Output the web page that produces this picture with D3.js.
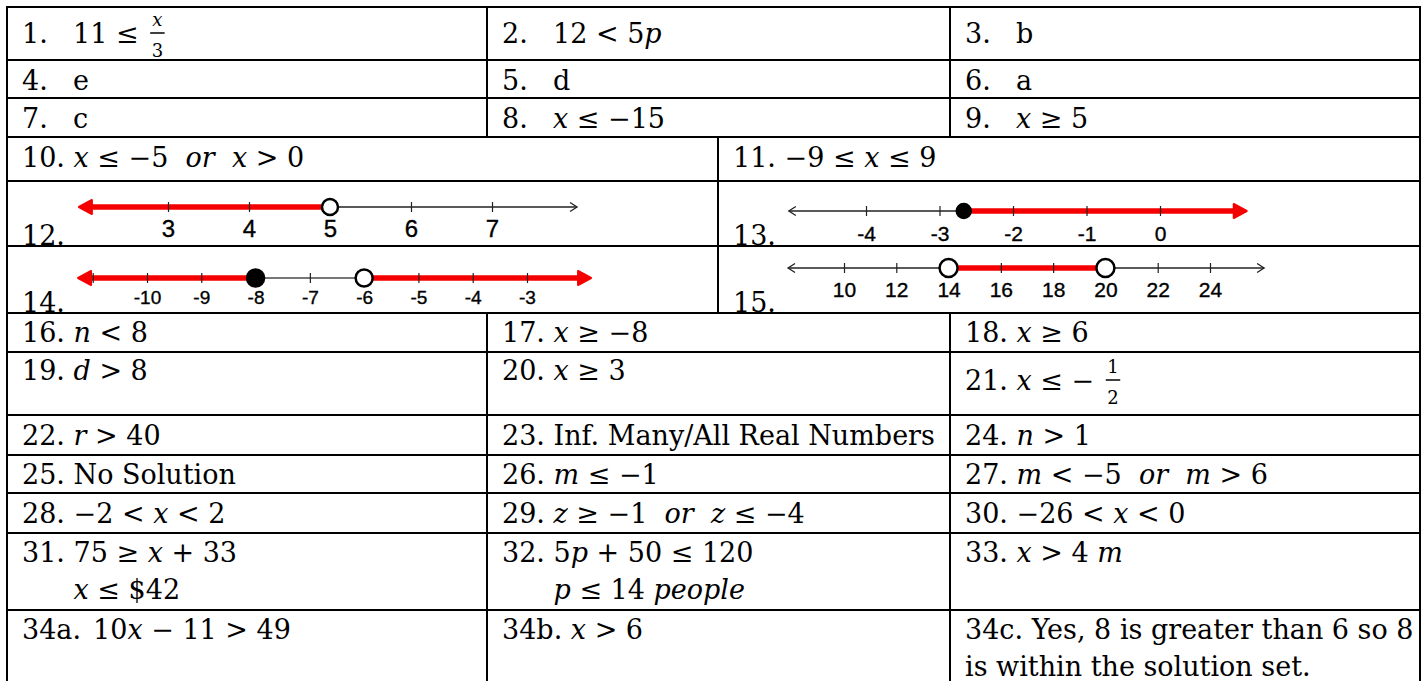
<!DOCTYPE html>
<html><head><meta charset="utf-8">
<script src="https://cdn.jsdelivr.net/npm/d3@7"></script>
<style>html,body{margin:0;padding:0;background:#fff;overflow:hidden}svg{display:block}</style>
</head><body>
<svg id="chart" width="1426" height="681"></svg>
<script>
// ---------------- DATA ----------------
// "_..._" marks italic (math variables), "[a/b]" a stacked fraction, "\t" a tab after the item number
const answersTop = [
  ["1.\t11 ≤ [_x_/3]", "2.\t12 < 5_p_", "3.\tb"],
  ["4.\te", "5.\td", "6.\ta"],
  ["7.\tc", "8.\t_x_ ≤ −15", "9.\t_x_ ≥ 5"]
];
const answersMid = ["10. _x_ ≤ −5  _or_  _x_ > 0", "11. −9 ≤ _x_ ≤ 9"];
const numberLineItems = ["12.", "13.", "14.", "15."];
const answersBottom = [
  ["16. _n_ < 8", "17. _x_ ≥ −8", "18. _x_ ≥ 6"],
  ["19. _d_ > 8", "20. _x_ ≥ 3", "21. _x_ ≤ − [1/2]"],
  ["22. _r_ > 40", "23. Inf. Many/All Real Numbers", "24. _n_ > 1"],
  ["25. No Solution", "26. _m_ ≤ −1", "27. _m_ < −5  _or_  _m_ > 6"],
  ["28. −2 < _x_ < 2", "29. _z_ ≥ −1  _or_  _z_ ≤ −4", "30. −26 < _x_ < 0"],
  ["31. 75 ≥ _x_ + 33|      _x_ ≤ $42", "32. 5_p_ + 50 ≤ 120|      _p_ ≤ 14 _people_", "33. _x_ > 4 _m_"],
  ["34a.\t10_x_ − 11 > 49", "34b. _x_ > 6", "34c. Yes, 8 is greater than 6 so 8|is within the solution set."]
];

// number lines: tick values, labelled ticks, visible ends (in axis units), shaded intervals, endpoints
const nl12Ticks = [3, 4, 5, 6, 7];
const nl12Labels = [3, 4, 5, 6, 7];
const nl12Ends = [1.9, 8.05];
const nl12Shade = [[-Infinity, 5]];
const nl12Points = [[5, "open"]];

const nl13Ticks = [-4, -3, -2, -1, 0];
const nl13Labels = [-4, -3, -2, -1, 0];
const nl13Ends = [-5.05, 1.18];
const nl13Shade = [[-2.67, Infinity]];
const nl13Points = [[-2.67, "closed"]];

const nl14Ticks = [-11, -10, -9, -8, -7, -6, -5, -4, -3];
const nl14Labels = [-10, -9, -8, -7, -6, -5, -4, -3];
const nl14Ends = [-11.27, -1.82];
const nl14Shade = [[-Infinity, -8], [-6, Infinity]];
const nl14Points = [[-8, "closed"], [-6, "open"]];

const nl15Ticks = [10, 12, 14, 16, 18, 20, 22, 24];
const nl15Labels = [10, 12, 14, 16, 18, 20, 22, 24];
const nl15Ends = [7.86, 26.07];
const nl15Shade = [[14, 20]];
const nl15Points = [[14, "open"], [20, "open"]];

// ---------------- LAYOUT ----------------
const W = 1426, H = 681;
const SERIF = "'DejaVu Serif', 'Liberation Serif', serif";
const SANS = "'Liberation Sans Narrow', 'Liberation Sans', Arial, sans-serif";
const FS = 27;
const TAB = 51;
const xL = 7, xR = 1420;
const col3 = [7, 487, 950];
const col2 = [7, 718];
const topRowTops = [7, 60, 98];
const midTop = 137;
const nlRowTops = [181, 246];
const bottomRowTops = [313, 352, 415, 455, 493, 533, 610];
const tableBottom = 690;
const padX = 15;
const baseOff = 30;
const lineGap = 37;
const RED = "#f40000";

const svg = d3.select("#chart");
svg.append("rect").attr("width", W).attr("height", H).attr("fill", "#fff");
const gText = svg.append("g").attr("font-family", SERIF).attr("font-size", FS).attr("fill", "#000");
const gLines = svg.append("g");
const gBorders = svg.append("g").attr("stroke", "#000").attr("stroke-width", 2);

function addRuns(t, str) {
  str.split("_").forEach((p, i) => {
    if (p) t.append("tspan").attr("font-style", i % 2 ? "italic" : "normal").text(p);
  });
}

function rich(x, y, s) {
  const m = s.match(/^(.*)\[([^\/\]]*)\/([^\]]*)\]$/);
  const main = m ? m[1] : s;
  const t = gText.append("text").attr("x", x).attr("y", y)
    .attr("xml:space", "preserve").style("white-space", "pre");
  addRuns(t, main);
  let w = t.node().getComputedTextLength();
  if (m) {
    const fs = 18;
    const bar = y - 10;
    const num = gText.append("text").attr("font-size", fs).attr("y", bar - 7);
    addRuns(num, m[2]);
    const den = gText.append("text").attr("font-size", fs).attr("y", bar + 24);
    addRuns(den, m[3]);
    const bw = Math.max(num.node().getComputedTextLength(), den.node().getComputedTextLength()) + 3;
    const fx = x + w + 3;
    num.attr("x", fx + bw / 2).attr("text-anchor", "middle");
    den.attr("x", fx + bw / 2).attr("text-anchor", "middle");
    gText.append("line").attr("x1", fx).attr("x2", fx + bw).attr("y1", bar).attr("y2", bar)
      .attr("stroke", "#000").attr("stroke-width", 1.5);
    w += bw + 3;
  }
  return w;
}

function cell(x, y, s) {
  s.split("|").forEach((line, li) => {
    const yy = y + li * lineGap;
    const parts = line.split("\t");
    if (parts.length > 1) {
      const lw = rich(x, yy, parts[0]);
      rich(Math.max(x + TAB, x + lw + 12), yy, parts[1]);
    } else {
      rich(x, yy, line);
    }
  });
}

// top rows
answersTop.forEach((row, r) => {
  const y = topRowTops[r] + (r === 0 ? 36 : baseOff);
  row.forEach((s, c) => cell(col3[c] + padX, y, s));
});
// row 10 / 11
answersMid.forEach((s, c) => cell(col2[c] + padX, midTop + baseOff, s));
// number line item numbers
numberLineItems.forEach((s, i) => {
  const r = Math.floor(i / 2), c = i % 2;
  const bottom = r === 0 ? nlRowTops[1] : bottomRowTops[0];
  cell(col2[c] + padX, bottom - 1, s);
});
// bottom rows
const bottomOffsets = [29, 28, 30, 29, 30, 29, 29];
answersBottom.forEach((row, r) => {
  row.forEach((s, c) => {
    const extra = s.includes("[") ? 10 : 0;
    cell(col3[c] + padX, bottomRowTops[r] + bottomOffsets[r] + extra, s);
  });
});

// ---------------- NUMBER LINES ----------------
function numberLine(cfg) {
  const x = d3.scaleLinear().domain(cfg.domain).range(cfg.range);
  const g = gLines.append("g");
  const y = cfg.y;
  const [lo, hi] = cfg.ends;
  const clamp = v => Math.max(lo, Math.min(hi, v));
  g.append("line").attr("x1", x(lo)).attr("x2", x(hi)).attr("y1", y).attr("y2", y)
    .attr("stroke", cfg.baseColor || "#222").attr("stroke-width", cfg.baseWidth || 1.3);
  const leftShaded = cfg.shade.some(s => s[0] === -Infinity);
  const rightShaded = cfg.shade.some(s => s[1] === Infinity);
  if (!leftShaded) g.append("path").attr("d", `M${x(lo) + 7},${y - 4.5}L${x(lo)},${y}L${x(lo) + 7},${y + 4.5}`)
    .attr("fill", "none").attr("stroke", "#222").attr("stroke-width", 1.3);
  if (!rightShaded) g.append("path").attr("d", `M${x(hi) - 7},${y - 4.5}L${x(hi)},${y}L${x(hi) - 7},${y + 4.5}`)
    .attr("fill", "none").attr("stroke", "#222").attr("stroke-width", 1.3);
  cfg.shade.forEach(([a, b]) => {
    const xa = x(clamp(a)), xb = x(clamp(b));
    const x1 = a === -Infinity ? xa + 10 : xa;
    const x2 = b === Infinity ? xb - 10 : xb;
    g.append("line").attr("x1", x1).attr("x2", x2).attr("y1", y).attr("y2", y)
      .attr("stroke", RED).attr("stroke-width", cfg.redWidth || 5.5);
    if (a === -Infinity) g.append("path").attr("d", `M${xa},${y}L${xa + 13},${y - 7}L${xa + 13},${y + 7}Z`)
      .attr("fill", RED).attr("stroke", RED).attr("stroke-width", 2).attr("stroke-linejoin", "round");
    if (b === Infinity) g.append("path").attr("d", `M${xb},${y}L${xb - 13},${y - 7}L${xb - 13},${y + 7}Z`)
      .attr("fill", RED).attr("stroke", RED).attr("stroke-width", 2).attr("stroke-linejoin", "round");
  });
  const axis = d3.axisBottom(x).tickValues(cfg.ticks).tickSizeOuter(0).tickSizeInner(5)
    .tickFormat(d => cfg.labels.includes(d) ? String(d) : "");
  const ag = g.append("g").attr("transform", `translate(0,${y})`).call(axis);
  ag.select(".domain").remove();
  ag.selectAll(".tick line").attr("y1", -5).attr("y2", 5).attr("stroke", "#222").attr("stroke-width", 1.2);
  ag.selectAll(".tick text").attr("y", cfg.labelDy).attr("dy", null)
    .attr("font-family", SANS).attr("font-size", cfg.labelSize).attr("fill", "#000")
    .attr("stroke", "#000").attr("stroke-width", 0.35);
  cfg.points.forEach(([v, kind]) => {
    g.append("circle").attr("cx", x(v)).attr("cy", y).attr("r", cfg.r)
      .attr("fill", kind === "open" ? "#fff" : "#000").attr("stroke", "#000").attr("stroke-width", 2.5);
  });
}

numberLine({ domain: [3, 7], range: [168, 492], y: 207, ticks: nl12Ticks, labels: nl12Labels, ends: nl12Ends,
  shade: nl12Shade, points: nl12Points, r: 8, labelDy: 30, labelSize: 24 });
numberLine({ domain: [-4, 0], range: [866, 1160], y: 211, ticks: nl13Ticks, labels: nl13Labels, ends: nl13Ends,
  shade: nl13Shade, points: nl13Points, r: 7, labelDy: 30, labelSize: 21 });
numberLine({ domain: [-10, -3], range: [147, 527], y: 278, ticks: nl14Ticks, labels: nl14Labels, ends: nl14Ends,
  shade: nl14Shade, points: nl14Points, r: 8.5, labelDy: 26, labelSize: 19, baseColor: "#777", baseWidth: 2 });
numberLine({ domain: [10, 24], range: [844, 1210], y: 268, ticks: nl15Ticks, labels: nl15Labels, ends: nl15Ends,
  shade: nl15Shade, points: nl15Points, r: 9, labelDy: 29, labelSize: 21 });

// ---------------- BORDERS ----------------
function hline(y, x1, x2) { gBorders.append("line").attr("x1", x1).attr("x2", x2).attr("y1", y).attr("y2", y); }
function vline(x, y1, y2) { gBorders.append("line").attr("x1", x).attr("x2", x).attr("y1", y1).attr("y2", y2); }
const allTops = topRowTops.concat([midTop], nlRowTops, bottomRowTops);
allTops.forEach(y => hline(y, xL - 1, xR + 1));
vline(xL, 6, tableBottom);
vline(xR, 6, tableBottom);
[col3[1], col3[2]].forEach(x => vline(x, topRowTops[0], midTop));
vline(col2[1], midTop, bottomRowTops[0]);
[col3[1], col3[2]].forEach(x => vline(x, bottomRowTops[0], tableBottom));
</script>
</body></html>
